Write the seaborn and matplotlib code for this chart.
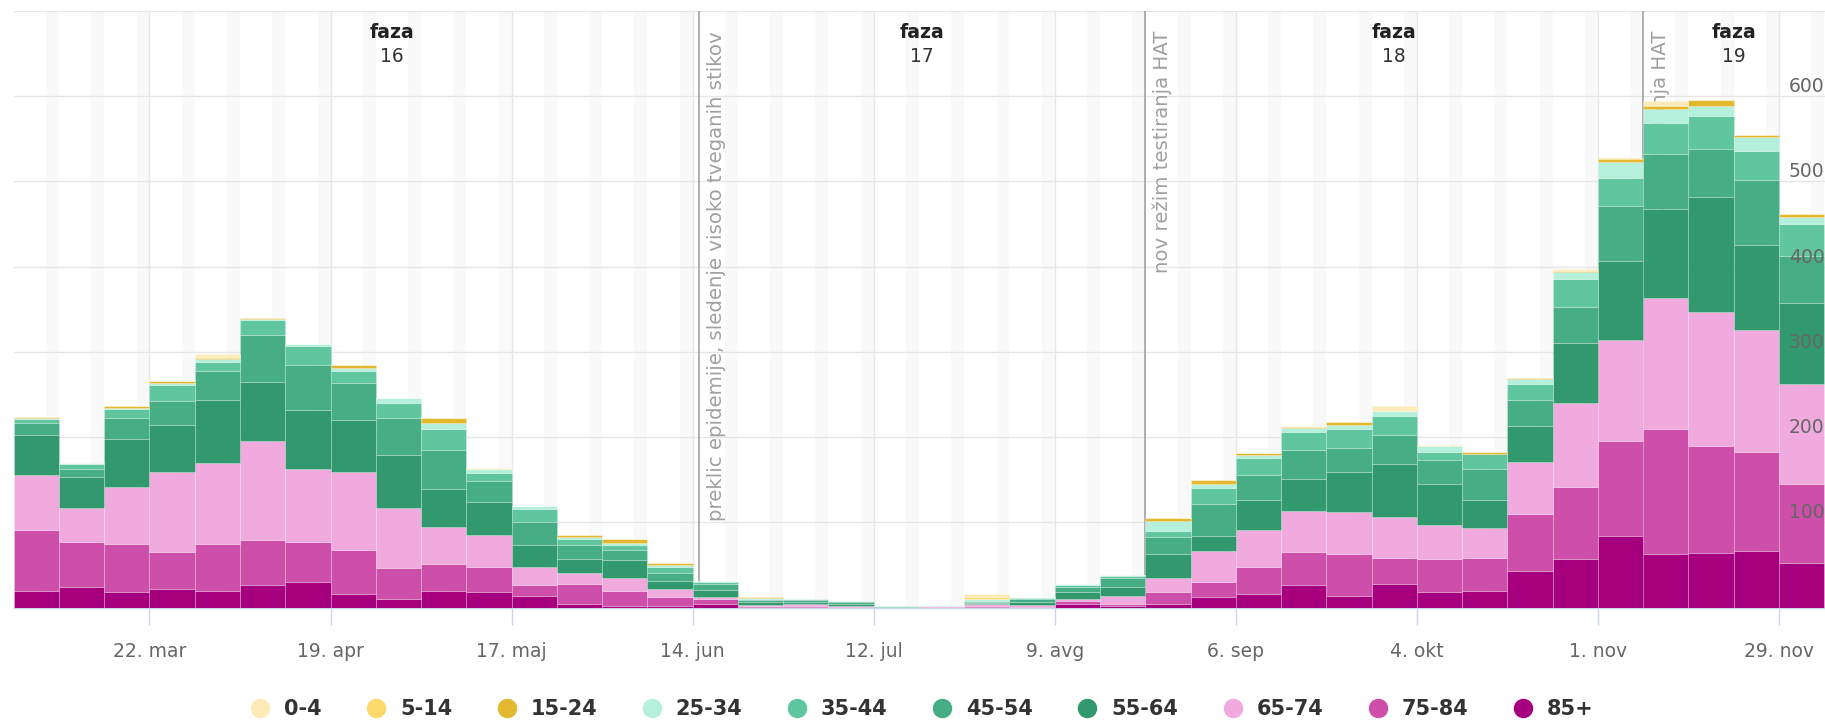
import pandas as pd
import seaborn as sns
import matplotlib.pyplot as plt
import matplotlib.dates as mdates
from matplotlib.lines import Line2D
from matplotlib.transforms import blended_transform_factory

# 1. DATA
# -------
first_week = "2021-03-01"   # Monday of the first weekly bar
n_weeks = 40

age_groups = ['0-4', '5-14', '15-24', '25-34', '35-44',
              '45-54', '55-64', '65-74', '75-84', '85+']
age_colors = ['#fdebb7', '#fcd96a', '#e3b82e', '#b4f0dc', '#60c6a0',
              '#46ad85', '#32996f', '#f0aade', '#cd4faa', '#a7007f']

# weekly counts per age group (bottom of stack = 85+)
g85 = [20, 24, 18, 22, 20, 26, 30, 16, 10, 20, 18, 14, 4, 2, 2, 4, 0.5, 0.5, 0.2, 0,
       0, 0.5, 0.5, 4, 2, 4, 12, 16, 26, 14, 28, 18, 20, 42.5, 56.5, 84.5, 62.5, 64.5, 66.5, 52]
g75_84 = [71, 53, 57, 43, 55, 53, 47, 51, 36, 31, 30, 12, 24, 18, 10, 6, 1, 1.5, 0.5, 0,
          0.5, 1.5, 0.5, 4, 2, 14, 18.5, 32, 39, 49, 30.5, 39, 38.5, 67, 85, 110.5, 147, 124.5, 116.5, 92.5]
g65_74 = [65, 40, 67, 94, 94, 116, 85, 92, 71, 43, 37, 22, 12, 15, 10, 3, 1.5, 2, 0.8, 0,
          1, 2.5, 2, 2, 10, 16.5, 36, 43, 48, 49, 48, 40, 34.5, 61, 98, 118.5, 153.5, 157.5, 143, 118]
g55_64 = [46, 36, 56, 55, 75, 70, 70, 61, 62, 45, 39, 25, 17, 21, 9, 8, 3, 2, 3, 0.5,
          0, 1, 3, 8, 10, 28.5, 18, 35, 37.5, 47, 62, 47.5, 33, 43, 70.5, 93.5, 105, 135.5, 99.5, 94.5]
g45_54 = [14, 10, 24, 28, 33, 55, 53, 43, 43, 46, 24, 27, 16, 11, 10, 7, 3, 3, 2.5, 0.5,
          0, 1, 4, 6, 10.5, 20, 37.5, 29, 34, 28, 33.5, 28.5, 36.5, 30, 42.5, 64, 63.5, 56, 76, 55.5]
g35_44 = [5, 5, 11, 19, 11, 17, 22, 15, 18, 25, 10, 16, 8, 6, 7, 2.5, 1.5, 1, 1, 1,
          0.5, 1.5, 1.5, 3, 2.5, 6.5, 18, 20.5, 21, 22.5, 23, 10, 17.5, 18.5, 32.5, 32.5, 37, 38, 34, 37]
g25_34 = [1, 1.5, 1, 2, 3, 1, 2, 3, 6, 7, 4, 3, 2, 3, 2, 1, 0.5, 0, 0, 0.3,
          1.5, 1.5, 1, 1, 1, 12, 5.5, 3, 5, 4.5, 6, 6, 0, 5.5, 8, 18.5, 16.5, 12, 16.5, 8]
g15_24 = [1, 0.5, 2, 3, 2, 2, 0, 4, 0, 5, 0, 0, 2, 4, 2, 0, 1.5, 0, 0, 0,
          0, 0.5, 0, 0, 0, 4, 4.5, 2.5, 1, 3.5, 0, 0, 2, 1.5, 1.5, 4, 3, 7, 2, 4.5]
g5_14 = [0, 0, 0, 0, 1, 0, 0, 0, 0, 0, 0, 0, 0, 0, 0, 0, 0, 0, 0, 0,
         0, 2, 0, 0, 0, 0, 0, 0, 0, 0, 0, 0, 0, 0, 0.5, 1, 1, 0, 0, 0]
g0_4 = [0, 0, 0, 0, 3, 0, 0, 0, 0, 0, 2, 0.5, 0, 0, 0, 0, 0.5, 0, 0, 0,
        0, 3.5, 0, 0, 0, 0, 0, 0, 1, 0, 5.5, 1.5, 0, 0, 1.5, 0, 5, 0, 0, 0]

tick_dates = ['2021-03-22', '2021-04-19', '2021-05-17', '2021-06-14', '2021-07-12',
              '2021-08-09', '2021-09-06', '2021-10-04', '2021-11-01', '2021-11-29']
tick_labels = ['22. mar', '19. apr', '17. maj', '14. jun', '12. jul',
               '9. avg', '6. sep', '4. okt', '1. nov', '29. nov']
y_ticks = [100, 200, 300, 400, 500, 600, 700]
y_labels = ['100', '200', '300', '400', '500', '600']

phase_starts = ['2021-03-12', '2021-06-15', '2021-08-23', '2021-11-08']
phase_names = ['16', '17', '18', '19']
event_dates = ['2021-06-15', '2021-08-23', '2021-11-08']
event_texts = ['preklic epidemije, sledenje visoko tveganih stikov',
               'nov režim testiranja HAT',
               'nov režim testiranja HAT']

# long table for seaborn
series = [g0_4, g5_14, g15_24, g25_34, g35_44, g45_54, g55_64, g65_74, g75_84, g85]
weeks = pd.date_range(first_week, periods=n_weeks, freq='7D')
week_num = mdates.date2num(weeks)
rows = []
for age, vals in zip(age_groups, series):
    for w, v in zip(week_num, vals):
        rows.append({'week': w + 3.5, 'age': age, 'n': v})
df = pd.DataFrame(rows)
edges = list(week_num) + [week_num[-1] + 7]

# 2. FIGURE
# ---------
sns.set_style('white')
plt.rcParams['font.family'] = ['DejaVu Sans']

W, H = 1825, 722
fig = plt.figure(figsize=(W / 100, H / 100), dpi=100)
x0, base, top = 13.7, 607.6, 10.7
ax = fig.add_axes([x0 / W, (H - base) / H, 1 - x0 / W, (base - top) / H])

x_start = mdates.date2num(pd.Timestamp(first_week))
x_end = x_start + (W - x0) / 6.466

# weekend shading
for sat in pd.date_range(pd.Timestamp(first_week) + pd.Timedelta(days=5), periods=n_weeks + 2, freq='7D'):
    s = mdates.date2num(sat)
    ax.axvspan(s, s + 2, color='#f9f9f9', lw=0, zorder=0)

# grid
for v in y_ticks:
    ax.axhline(v, color='#e6e6e6', lw=1, zorder=0.6)
for t in tick_dates:
    ax.axvline(mdates.date2num(pd.Timestamp(t)), color='#e6e6e6', lw=1, zorder=0.6)

# event lines + labels (behind the bars)
for d, txt in zip(event_dates, event_texts):
    xd = mdates.date2num(pd.Timestamp(d))
    ax.axvline(xd, color='#9a9a9a', lw=1.1, zorder=1)
    ax.annotate(txt, xy=(xd, 0.966), xycoords=('data', 'axes fraction'),
                xytext=(12.6, 0), textcoords='offset points', rotation=90,
                ha='center', va='top', fontsize=14.2, color='#a0a0a0', zorder=1)

# stacked weekly bars
sns.histplot(data=df, x='week', weights='n', hue='age', hue_order=age_groups,
             multiple='stack', bins=edges, palette=dict(zip(age_groups, age_colors)),
             alpha=1, edgecolor=(1, 1, 1, 0.25), linewidth=0.6, legend=False,
             ax=ax, zorder=3)

# phase labels
p_nums = [mdates.date2num(pd.Timestamp(p)) for p in phase_starts] + [x_end]
for i, name in enumerate(phase_names):
    xm = (p_nums[i] + p_nums[i + 1]) / 2
    ax.annotate('faza', xy=(xm, 0.9643), xycoords=('data', 'axes fraction'),
                ha='center', va='center', fontsize=13.6, fontweight='bold', color='#222222')
    ax.annotate(name, xy=(xm, 0.9225), xycoords=('data', 'axes fraction'),
                ha='center', va='center', fontsize=13.4, color='#333333')

# y labels drawn inside, over the bars
tr = blended_transform_factory(ax.transAxes, ax.transData)
for v, lab in zip(y_ticks, y_labels):
    ax.text((1789 - x0) / (W - x0), v, lab, transform=tr, ha='left', va='bottom',
            fontsize=13.5, color='#666666', zorder=6, clip_on=False)

ax.set_xlim(x_start, x_end)
ax.set_ylim(0, 700)
ax.set_xticks([mdates.date2num(pd.Timestamp(t)) for t in tick_dates], tick_labels)
ax.set_yticks([])
ax.tick_params(axis='x', length=12, width=1, color='#ccd6eb', labelsize=13.5,
               labelcolor='#666666', pad=13, bottom=True)
ax.set_xlabel('')
ax.set_ylabel('')
for side in ['top', 'left', 'right']:
    ax.spines[side].set_visible(False)
ax.spines['bottom'].set_color('#ccd6eb')
ax.spines['bottom'].set_linewidth(1)

# legend
handles = [Line2D([], [], marker='o', ls='', markersize=13, markerfacecolor=c,
                  markeredgecolor=c) for c in age_colors]
fig.legend(handles, age_groups, loc='center', bbox_to_anchor=(0.505, 13 / H), ncol=10,
           frameon=False, handlelength=1.0, handletextpad=0.64, columnspacing=2.12,
           prop={'weight': 'bold', 'size': 15}, labelcolor='#333333', borderpad=0)

fig.savefig('out.png', dpi=100)
